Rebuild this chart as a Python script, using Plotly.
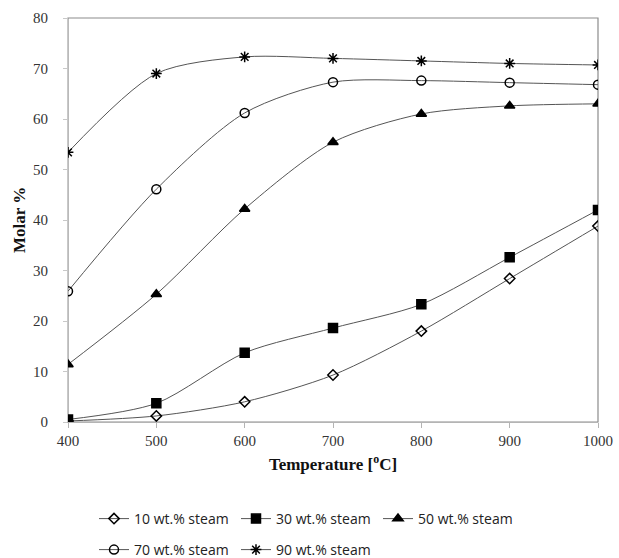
import plotly.graph_objects as go

temps = [400, 500, 600, 700, 800, 900, 1000]
s10 = [0.2, 1.2, 4.0, 9.3, 18.0, 28.4, 38.8]
s30 = [0.5, 3.7, 13.7, 18.6, 23.3, 32.6, 42.0]
s50 = [11.4, 25.3, 42.2, 55.4, 61.0, 62.6, 63.0]
s70 = [25.9, 46.1, 61.2, 67.3, 67.6, 67.2, 66.8]
s90 = [53.4, 69.0, 72.3, 72.0, 71.5, 71.0, 70.7]
names = ["10 wt.% steam", "30 wt.% steam", "50 wt.% steam", "70 wt.% steam", "90 wt.% steam"]

series = [s10, s30, s50, s70, s90]
symbols = ["diamond-open", "square", "triangle-up", "circle-open", "asterisk-open"]
sizes = [8, 9, 9, 9, 9]
legends = ["legend", "legend", "legend", "legend2", "legend2"]

fig = go.Figure()
for name, vals, sym, sz, lg in zip(names, series, symbols, sizes, legends):
    fig.add_trace(go.Scatter(
        x=temps, y=vals, name=name, mode="lines+markers", legend=lg,
        line=dict(color="#555555", width=1, shape="spline", smoothing=0.8),
        marker=dict(symbol=sym, size=sz, color="black",
                    line=dict(color="black", width=1.5)),
    ))

fig.add_shape(type="rect", xref="paper", yref="paper", x0=0, y0=0, x1=1, y1=1,
              line=dict(color="#8c8c8c", width=1.2), layer="below")

legfont = dict(family="Open Sans", size=14, color="#222222")
fig.update_layout(
    width=619, height=558,
    margin=dict(l=68, r=21, t=18, b=136),
    plot_bgcolor="white", paper_bgcolor="white",
    font=dict(family="Liberation Serif", size=15, color="#333333"),
    showlegend=True,
    legend=dict(orientation="h", xref="container", yref="container",
                x=94 / 619, xanchor="left", y=1 - 519 / 558, yanchor="middle",
                font=legfont, entrywidth=97, entrywidthmode="pixels", itemwidth=30),
    legend2=dict(orientation="h", xref="container", yref="container",
                 x=94 / 619, xanchor="left", y=1 - 550 / 558, yanchor="middle",
                 font=legfont, entrywidth=97, entrywidthmode="pixels", itemwidth=30),
)
fig.update_xaxes(
    range=[400, 1000], tickvals=temps, showgrid=False, zeroline=False,
    showline=True, linecolor="#b4b4b4", linewidth=1.2, automargin=False,
    ticks="outside", ticklen=5, tickcolor="#b4b4b4", ticklabelstandoff=0,
    title=dict(text="<b>Temperature [<sup>o</sup>C]</b>", font=dict(size=17, color="#111111"), standoff=10),
)
fig.update_yaxes(
    range=[0, 80], dtick=10, showgrid=False, zeroline=False,
    showline=True, linecolor="#c8c8c8", linewidth=1.2, automargin=False,
    ticks="outside", ticklen=4, tickcolor="#c8c8c8", ticklabelstandoff=12,
    title=dict(text="<b>Molar %</b>", font=dict(size=17, color="#111111"), standoff=2),
)

fig.write_html("out.html", config={"displayModeBar": False},
               post_script="document.body.style.margin='0';")
